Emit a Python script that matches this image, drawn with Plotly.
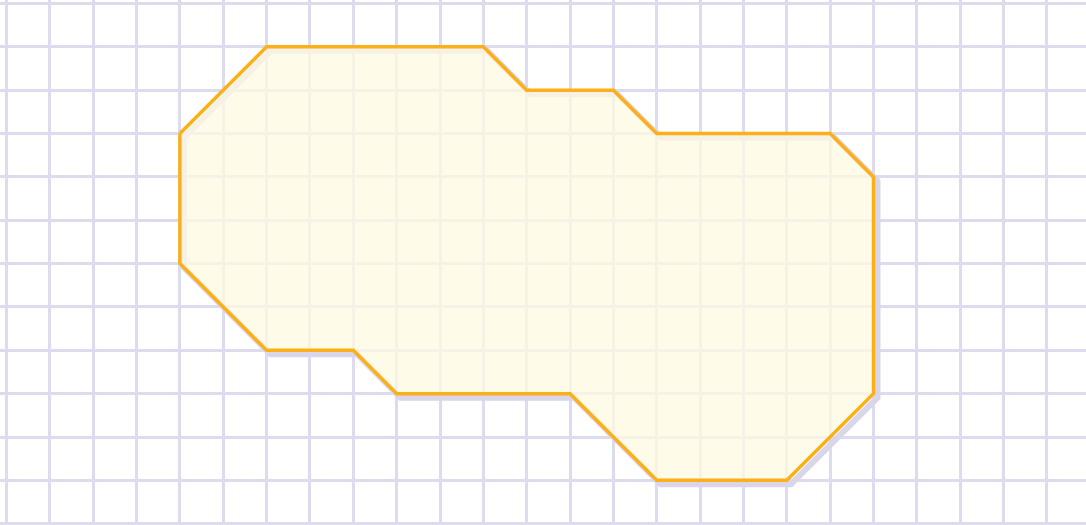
import plotly.graph_objects as go

# Polygon vertices in grid units (column, row from top)
cols = [4, 6, 11, 12, 14, 15, 19, 20, 20, 18, 15, 13, 9, 8, 6, 4, 4]
rows = [3, 1, 1, 2, 2, 3, 3, 4, 9, 11, 11, 9, 9, 8, 8, 6, 3]

W, H = 1086, 525
cell = 43.35
x0_px, y0_px = 6.5, 3.5
shadow_px = 4

xr = [-x0_px / cell, (W - x0_px) / cell]
yr = [(H - y0_px) / cell, -y0_px / cell]
off = shadow_px / cell

fig = go.Figure()
fig.add_trace(go.Scatter(
    x=[c + off for c in cols], y=[r + off for r in rows], mode="lines",
    line=dict(color="#d9d6ec", width=6), hoverinfo="skip",
    showlegend=False))
fig.add_trace(go.Scatter(
    x=cols, y=rows, mode="lines", fill="toself",
    fillcolor="rgba(255,250,226,0.75)",
    line=dict(color="#fbb01a", width=3.5), showlegend=False))

axis = dict(showgrid=True, gridcolor="#dddbee", gridwidth=2.5, dtick=1, tick0=0,
            zeroline=False, showticklabels=False, ticks="", showline=False,
            fixedrange=True)
fig.update_xaxes(range=xr, **axis)
fig.update_yaxes(range=yr, **axis)
fig.update_layout(width=W, height=H, margin=dict(l=0, r=0, t=0, b=0),
                  paper_bgcolor="white", plot_bgcolor="white")
fig.write_html("out.html", config={"displayModeBar": False},
               post_script="document.body.style.margin='0';document.body.style.overflow='hidden';")
